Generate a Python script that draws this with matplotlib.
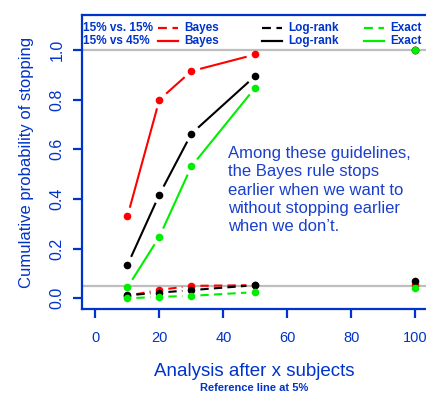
import matplotlib
matplotlib.use("Agg")
import matplotlib.pyplot as plt
import numpy as np
from matplotlib.lines import Line2D

# analysis points (number of subjects)
looks = [10, 20, 30, 50]
final_look = 100

# 15% vs 15% (null) - cumulative probability of stopping
null_bayes = [0.010, 0.034, 0.050, 0.053]
null_logrank = [0.012, 0.023, 0.033, 0.053]
null_exact = [0.000, 0.006, 0.010, 0.025]
null_final = {"Bayes": 0.055, "Log-rank": 0.068, "Exact": 0.041}

# 15% vs 45% (alternative)
alt_bayes = [0.33, 0.80, 0.915, 0.982]
alt_logrank = [0.134, 0.418, 0.663, 0.896]
alt_exact = [0.044, 0.248, 0.531, 0.849]
alt_final = {"Bayes": 1.0, "Log-rank": 1.0, "Exact": 1.0}

ref_lines = [1.0, 0.05]
methods = ["Bayes", "Log-rank", "Exact"]
colors = {"Bayes": "#ff0000", "Log-rank": "#000000", "Exact": "#00ee00"}

BLUE = "#0033cc"
TXT = "#1a3fcc"
narrow = ["Liberation Sans Narrow", "DejaVu Sans Condensed", "Liberation Sans"]

fig = plt.figure(figsize=(4.27, 3.93), dpi=100)
W, H = 427, 393
ax = fig.add_axes([82 / W, 1 - 309 / H, 1 - 82 / W + 0.01, (309 - 15) / H])
ax.set_xlim(-4.2, 105)
ax.set_ylim(-0.043, 1.141)

for yv in ref_lines:
    ax.axhline(yv, color="#bebebe", lw=1.6, zorder=1)


def gapped(xs, ys, color, ls):
    # R type="b": line segments stop short of the points
    fig.canvas.draw()
    pts = ax.transData.transform(np.column_stack([xs, ys]))
    inv = ax.transData.inverted()
    gap = 9.0
    for p0, p1 in zip(pts[:-1], pts[1:]):
        d = p1 - p0
        L = np.hypot(*d)
        if L <= 2 * gap:
            continue
        u = d / L
        a = inv.transform(p0 + u * gap)
        b = inv.transform(p1 - u * gap)
        ln = ax.plot([a[0], b[0]], [a[1], b[1]], color=color, lw=1.5, zorder=2,
                     solid_capstyle="butt", dash_capstyle="butt")[0]
        if ls == "--":
            ln.set_dashes([4, 2.5])
    ax.plot(xs, ys, "o", color=color, ms=5.5, mec="none", zorder=3)


null = {"Bayes": null_bayes, "Log-rank": null_logrank, "Exact": null_exact}
alt = {"Bayes": alt_bayes, "Log-rank": alt_logrank, "Exact": alt_exact}
for m in methods:
    gapped(looks, null[m], colors[m], "--")
    gapped(looks, alt[m], colors[m], "-")
for m in methods:
    ax.plot([final_look], [null_final[m]], "o", color=colors[m], ms=5.5, mec="none", zorder=3)
    ax.plot([final_look], [alt_final[m]], "o", color=colors[m], ms=5.5, mec="none", zorder=3)

ax.spines["right"].set_visible(False)
for s in ["left", "top", "bottom"]:
    ax.spines[s].set_color(BLUE)
    ax.spines[s].set_linewidth(1.6)

ax.set_xticks([0, 20, 40, 60, 80, 100])
ax.set_yticks([0.0, 0.2, 0.4, 0.6, 0.8, 1.0])
ax.set_yticklabels(["0.0", "0.2", "0.4", "0.6", "0.8", "1.0"], rotation=90, va="center")
ax.tick_params(axis="both", colors=BLUE, width=1.6, length=6.5, labelsize=11.5)
ax.tick_params(axis="x", pad=9, labelsize=10.5)
ax.tick_params(axis="y", pad=6)
for lab in ax.get_xticklabels() + ax.get_yticklabels():
    lab.set_family(narrow)
    lab.set_color(BLUE)

fig.text(27 / W, 1 - 162 / H, "Cumulative probability of stopping", rotation=90,
         ha="center", va="center", color=BLUE, fontsize=12, family=narrow)
fig.text(254 / W, 1 - 371 / H, "Analysis after x subjects", ha="center", va="center",
         color=BLUE, fontsize=13.5, family=narrow)
fig.text(254 / W, 1 - 388 / H, "Reference line at 5%", ha="center", va="center",
         color=BLUE, fontsize=8, fontweight="bold", family=narrow)

# legend
rows = [("15% vs. 15%", "--", 28), ("15% vs 45%", "-", 41)]
cols = [("Bayes", 158), ("Log-rank", 262), ("Exact", 364)]
for lab, ls, yp in rows:
    fig.text(83 / W, 1 - yp / H, lab, ha="left", va="center", color=BLUE,
             fontsize=8.5, fontweight="bold", family=narrow)
    for name, xp in cols:
        ln = Line2D([xp / W, (xp + 20) / W], [1 - yp / H, 1 - yp / H],
                    transform=fig.transFigure, color=colors[name], lw=1.6)
        if ls == "--":
            ln.set_dashes([4, 2.5])
        fig.add_artist(ln)
        fig.text((xp + 26) / W, 1 - yp / H, name, ha="left", va="center", color=BLUE,
                 fontsize=8.5, fontweight="bold", family=narrow)

fig.text(228 / W, 1 - 146 / H,
         "Among these guidelines,\nthe Bayes rule stops\nearlier when we want to\n"
         "without stopping earlier\nwhen we don\u2019t.",
         ha="left", va="top", color=TXT, fontsize=12, linespacing=1.28,
         family=["Liberation Sans", "DejaVu Sans"])

fig.savefig("out.png", dpi=100)
